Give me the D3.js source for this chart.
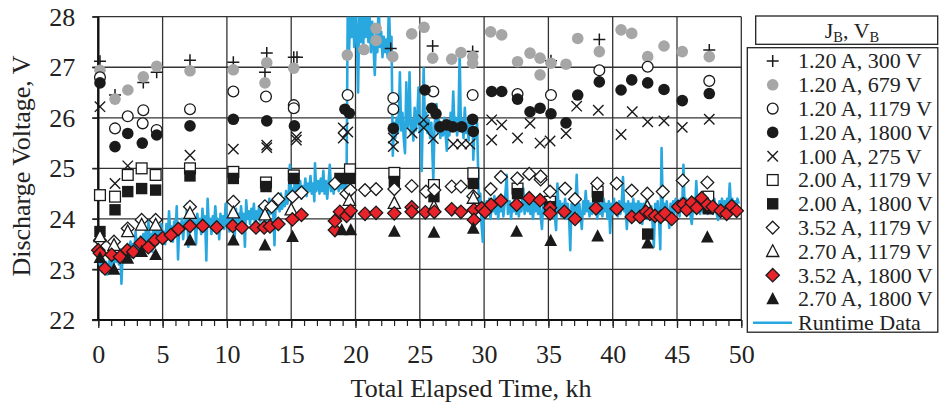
<!DOCTYPE html>
<html><head><meta charset="utf-8">
<script src="https://cdn.jsdelivr.net/npm/d3@7"></script>
<style>body{margin:0;background:#fff}svg{display:block}text{font-family:"Liberation Serif","Times New Roman",serif;fill:#222}</style>
</head><body><div id="chart"></div>
<script>
const xTickValues = [0,5,10,15,20,25,30,35,40,45,50];
const yTickValues = [22,23,24,25,26,27,28];
const xTitle = "Total Elapsed Time, kh";
const yTitle = "Discharge Voltage, V";
const legendLabels = ["1.20 A, 300 V","1.20 A, 679 V","1.20 A, 1179 V","1.20 A, 1800 V","1.00 A, 275 V","2.00 A, 1179 V","2.00 A, 1800 V","3.52 A, 1179 V","2.70 A, 1179 V","3.52 A, 1800 V","2.70 A, 1800 V","Runtime Data"];

const s120_300 = [[0.13,27.12],[1.3,26.45],[3.5,26.7],[4.54,26.9],[7.13,27.14],[10.5,27.1],[13.1,27.28],[12.96,26.9],[15.2,27.2],[15.45,27.2],[22.74,27.37],[26.0,27.42],[29.11,27.31],[35.2,27.13],[38.96,27.55],[47.51,27.34]];
const s120_679 = [[0.13,26.94],[1.3,26.37],[2.3,26.55],[3.5,26.81],[4.54,27.02],[7.13,26.93],[10.5,26.95],[13.1,27.09],[12.96,26.69],[15.2,26.98],[19.36,27.24],[20.66,27.35],[21.6,27.77],[21.6,27.53],[22.9,27.21],[24.37,27.66],[25.33,27.79],[26.0,27.18],[27.48,27.16],[28.2,27.29],[29.11,27.21],[29.11,27.08],[30.51,27.7],[31.37,27.64],[32.6,27.11],[33.57,27.28],[34.35,27.18],[34.35,26.85],[35.2,27.08],[36.37,27.06],[37.28,27.57],[38.96,27.31],[40.65,27.74],[41.48,27.67],[42.72,27.21],[43.99,27.42],[45.41,27.31],[47.51,27.21]];
const s120_1179 = [[0.13,26.8],[1.3,25.79],[2.29,26.03],[3.5,26.15],[3.45,25.89],[4.54,25.76],[7.13,26.17],[10.5,26.52],[13.04,26.42],[15.2,26.25],[15.2,26.19],[19.39,26.45],[22.94,26.39],[22.94,26.17],[26.05,26.52],[29.11,26.45],[32.6,26.47],[35.2,26.45],[38.96,26.94],[42.72,27.01],[47.51,26.73]];
const s120_1800 = [[0.13,26.69],[1.3,25.43],[2.29,25.69],[3.42,25.5],[4.54,25.66],[7.13,25.84],[10.5,25.97],[13.1,25.94],[15.25,25.84],[19.18,26.17],[19.52,26.09],[22.94,25.79],[25.4,26.55],[25.93,26.19],[26.26,26.08],[26.57,25.82],[27.09,25.86],[27.56,25.82],[28.26,25.82],[29.11,25.97],[29.16,25.73],[30.59,26.52],[31.37,26.52],[32.6,26.37],[33.57,26.12],[34.35,26.19],[35.2,26.08],[36.37,25.9],[37.28,26.45],[38.96,26.71],[40.65,26.55],[41.48,26.75],[42.72,26.69],[43.99,26.56],[45.41,26.34],[47.51,26.48]];
const s100_275 = [[0.13,26.22],[1.3,24.7],[2.29,25.05],[7.13,25.26],[10.5,25.38],[13.1,25.46],[13.1,25.41],[15.4,25.62],[15.4,25.56],[19.05,25.8],[19.05,25.6],[19.4,25.72],[22.94,25.6],[22.94,25.43],[24.4,25.7],[25.3,25.96],[25.3,25.8],[26.05,25.59],[27.6,25.48],[28.26,25.48],[28.9,25.48],[30.59,25.96],[31.37,25.86],[30.59,25.56],[32.6,25.6],[33.57,25.89],[34.35,25.5],[35.13,25.54],[36.37,25.69],[37.2,26.23],[38.88,26.15],[40.65,25.67],[41.52,26.12],[42.72,25.92],[43.99,25.94],[45.41,25.81],[47.51,25.97]];
const s200_1179 = [[0.13,24.47],[1.3,24.44],[2.29,24.87],[3.37,25.0],[4.46,24.87],[7.13,25.0],[10.5,24.93],[13.04,24.72],[15.2,24.86],[19.57,24.98],[23.02,24.91],[26.1,24.67],[29.16,24.9],[32.6,24.6],[35.13,24.34],[38.83,24.54],[47.43,24.44]];
const s200_1800 = [[0.13,23.75],[1.3,24.18],[2.29,24.54],[3.37,24.6],[4.46,24.57],[7.13,24.85],[10.5,24.8],[13.04,24.64],[15.2,24.8],[18.79,24.8],[19.57,24.8],[23.02,24.74],[26.1,24.44],[29.16,24.7],[32.6,24.5],[35.13,24.24],[38.83,24.44],[42.72,23.7],[47.43,24.2]];
const s352_1179 = [[0.13,23.58],[1.22,23.55],[2.29,23.81],[3.37,23.98],[4.46,23.98],[7.13,24.24],[10.5,24.34],[12.96,24.25],[13.48,24.24],[14.0,24.39],[15.1,24.44],[15.8,24.52],[18.4,24.7],[19.3,24.5],[19.6,24.57],[20.74,24.57],[21.6,24.59],[23.02,24.59],[24.37,24.65],[25.48,24.54],[26.13,24.57],[27.48,24.64],[28.2,24.64],[29.16,24.45],[30.51,24.59],[31.31,24.83],[32.58,24.8],[33.51,24.89],[34.4,24.78],[34.4,24.84],[35.13,24.54],[36.3,24.6],[37.07,24.39],[38.8,24.7],[40.31,24.7],[41.48,24.56],[42.69,24.5],[43.89,24.54],[45.44,24.76],[47.36,24.72]];
const s270_1179 = [[0.13,23.65],[1.22,23.48],[2.29,23.75],[3.37,23.88],[4.46,23.88],[7.13,24.11],[10.5,24.12],[12.96,24.08],[15.0,24.18],[19.52,24.37],[23.02,24.31],[26.1,24.24],[29.16,24.41],[42.69,24.24]];
const s352_1800 = [[0.0,23.38],[0.13,23.32],[0.52,23.02],[1.04,23.29],[1.69,23.25],[2.26,23.38],[2.72,23.35],[3.3,23.52],[3.89,23.44],[4.41,23.58],[5.0,23.62],[5.65,23.68],[6.22,23.8],[7.13,23.86],[8.12,23.86],[9.21,23.83],[10.45,23.86],[11.17,23.83],[12.26,23.83],[12.9,23.83],[13.35,23.85],[14.0,23.9],[15.09,23.99],[15.8,24.08],[18.4,23.78],[18.4,23.96],[18.79,24.14],[19.31,24.06],[19.62,24.16],[20.74,24.1],[21.6,24.12],[23.02,24.11],[24.37,24.23],[24.37,24.14],[25.43,24.13],[26.13,24.14],[27.48,24.19],[28.2,24.14],[29.21,24.18],[29.21,23.98],[29.81,24.21],[30.07,24.14],[30.54,24.28],[31.31,24.36],[32.53,24.28],[33.51,24.41],[34.35,24.37],[35.13,24.22],[35.13,24.11],[36.24,24.14],[37.07,24.0],[38.7,24.21],[40.31,24.2],[41.48,24.04],[42.12,24.04],[42.59,24.14],[42.9,24.1],[43.29,24.06],[43.73,24.04],[44.07,24.11],[44.59,24.0],[45.1,24.24],[45.49,24.29],[45.75,24.18],[46.14,24.32],[46.53,24.22],[46.92,24.41],[47.36,24.28],[47.78,24.24],[48.4,24.16],[48.86,24.1],[49.25,24.25],[49.64,24.16]];
const s270_1800 = [[0.13,23.23],[1.22,23.0],[2.29,23.22],[3.37,23.35],[4.46,23.29],[7.13,23.58],[10.5,23.58],[12.96,23.48],[15.1,23.65],[18.93,23.78],[19.63,23.78],[23.02,23.75],[26.1,23.73],[29.16,23.81],[32.53,23.75],[35.18,23.57],[38.83,23.66],[42.72,23.52],[47.36,23.64]];
const runtime = [[0.0,23.3],[0.1,23.1],[0.2,23.25],[0.3,22.95],[0.4,23.2],[0.5,23.0],[0.6,23.15],[0.7,22.9],[0.8,23.1],[0.9,23.2],[1.0,23.05],[1.1,23.3],[1.2,23.1],[1.3,23.35],[1.4,23.15],[1.5,23.3],[1.6,23.1],[1.7,23.4],[1.8,22.72],[1.9,23.35],[2.0,23.25],[2.1,23.45],[2.2,23.2],[2.3,23.4],[2.4,23.3],[2.5,23.55],[2.6,23.25],[2.7,23.5],[2.8,23.35],[2.9,23.75],[3.0,23.4],[3.1,23.6],[3.2,23.3],[3.3,23.65],[3.4,23.45],[3.5,23.7],[3.6,23.4],[3.7,23.8],[3.8,23.5],[3.9,23.95],[4.0,23.55],[4.1,23.7],[4.2,23.35],[4.3,24.05],[4.4,23.6],[4.5,23.8],[4.6,23.5],[4.7,23.85],[4.8,23.55],[4.9,23.9],[5.0,23.6],
[5.1,23.75],[5.2,23.5],[5.3,23.9],[5.4,23.6],[5.5,24.15],[5.6,23.7],[5.7,23.85],[5.8,23.55],[5.9,23.95],[6.0,23.7],[6.1,24.25],[6.2,23.2],[6.3,23.9],[6.4,23.75],[6.5,24.0],[6.6,23.6],[6.7,23.95],[6.8,23.8],[6.9,24.3],[7.0,23.45],[7.1,23.9],[7.2,23.75],[7.3,24.05],[7.4,23.8],[7.5,23.95],[7.6,23.5],[7.7,24.1],[7.8,23.85],[7.9,24.0],[8.0,23.7],[8.1,24.2],[8.2,23.85],[8.3,24.05],[8.4,23.18],[8.5,24.4],[8.6,23.85],[8.7,24.0],[8.8,23.7],[8.9,24.05],[9.0,23.85],[9.1,24.25],[9.2,23.9],[9.3,24.0],[9.4,23.6],[9.5,24.1],[9.6,23.9],[9.7,24.05],[9.8,23.8],[9.9,24.3],[10.0,23.9],
[10.1,24.05],[10.2,23.75],[10.3,24.15],[10.4,23.95],[10.5,24.1],[10.6,23.6],[10.7,24.2],[10.8,23.95],[10.9,24.1],[11.0,23.85],[11.1,24.25],[11.2,23.95],[11.3,24.1],[11.4,23.45],[11.5,24.37],[11.6,24.0],[11.7,24.15],[11.8,23.9],[11.9,24.2],[12.0,24.0],[12.1,24.3],[12.2,23.8],[12.3,24.15],[12.4,24.0],[12.5,24.25],[12.6,23.95],[12.7,24.2],[12.8,24.05],[12.9,24.35],[13.0,23.9],[13.1,24.25],[13.2,24.05],[13.3,24.4],[13.4,24.1],[13.5,24.3],[13.6,24.15],[13.7,23.48],[13.8,24.45],[13.9,24.2],[14.0,24.35],[14.1,24.15],[14.2,24.5],[14.3,24.2],[14.4,24.4],[14.5,24.25],[14.6,24.55],[14.7,24.3],[14.8,24.45],[14.9,25.07],[15.0,24.35],
[15.1,24.6],[15.2,24.4],[15.3,24.9],[15.4,24.45],[15.5,24.7],[15.6,24.5],[15.7,24.75],[15.8,24.4],[15.9,24.65],[16.0,24.5],[16.1,24.8],[16.2,24.45],[16.3,24.7],[16.4,24.55],[16.5,24.85],[16.6,24.5],[16.7,24.7],[16.8,24.35],[16.85,25.1],[16.95,24.55],[17.1,24.75],[17.2,24.5],[17.3,24.8],[17.4,24.55],[17.5,24.95],[17.6,24.5],[17.7,24.75],[17.8,24.4],[17.9,24.7],[18.0,25.07],[18.1,24.55],[18.2,24.75],[18.3,24.5],[18.4,24.8],[18.5,24.6],[18.6,24.85],[18.7,24.55],[18.8,24.75],[18.9,24.6],[19.0,24.8],[19.1,24.6],[19.2,24.9],[19.3,24.65],
[19.4,28.3],[19.5,27.3],[19.6,28.2],[19.7,27.6],[19.8,28.3],[19.9,27.4],[20.0,28.3],[20.1,27.7],[20.2,26.5],[20.3,28.2],[20.4,27.5],[20.5,28.3],[20.6,27.4],[20.7,28.1],[20.8,27.6],[20.9,28.3],[21.0,27.5],[21.1,28.0],[21.2,27.3],[21.3,27.9],[21.4,27.4],[21.5,26.85],[21.6,27.7],[21.7,27.3],[21.8,28.3],[21.9,27.4],[22.0,27.7],[22.1,27.2],[22.2,27.6],[22.3,27.3],[22.4,27.55],[22.5,27.2],[22.6,28.3],[22.7,27.3],[22.8,27.6],
[22.9,25.25],[23.0,25.9],[23.1,25.6],[23.2,26.0],[23.3,25.7],[23.4,26.3],[23.45,26.9],[23.55,25.75],[23.65,26.1],[23.75,25.6],[23.85,25.3],[23.95,26.7],[24.05,25.8],[24.15,26.0],[24.2,26.9],[24.3,25.7],[24.4,25.95],[24.5,25.55],[24.6,26.2],[24.7,25.75],[24.8,26.0],[24.9,26.6],[25.0,25.7],[25.1,25.9],[25.15,24.95],[25.3,26.98],[25.4,25.8],[25.5,26.1],[25.6,25.7],[25.7,25.95],[25.8,25.6],[25.9,25.9],[26.05,24.77],[26.15,25.85],[26.3,26.27],[26.4,25.7],[26.5,25.95],[26.6,25.6],[26.7,25.85],[26.8,25.65],[26.9,26.0],[27.0,25.7],[27.1,25.35],[27.2,25.9],[27.3,25.65],[27.4,26.1],[27.5,25.75],[27.6,26.52],[27.7,25.8],[27.8,26.0],[27.9,25.65],[28.0,25.9],[28.1,27.28],[28.2,25.75],[28.3,25.95],[28.4,25.6],[28.5,26.2],[28.6,25.7],[28.7,25.9],[28.8,25.55],[28.9,25.95],[29.0,25.7],[29.1,26.0],[29.16,25.17],[29.25,25.8],[29.35,25.6],[29.45,25.9],
[29.6,24.3],[29.7,24.5],[29.8,23.9],[29.9,23.55],[30.0,24.3],[30.1,24.05],[30.2,24.35],[30.3,24.1],[30.4,24.4],[30.5,24.0],[30.6,24.3],[30.7,24.15],[30.8,24.45],[30.9,24.1],[31.0,24.3],[31.1,24.0],[31.2,24.35],[31.3,24.15],[31.4,24.4],[31.5,24.05],[31.6,24.3],[31.76,24.87],[31.85,24.1],[32.0,24.35],[32.1,24.0],[32.2,24.3],[32.3,24.15],[32.4,24.45],[32.5,24.1],[32.6,24.35],[32.7,24.05],[32.8,24.3],[32.9,24.15],[33.05,24.6],[33.15,24.1],[33.3,24.35],[33.4,24.15],[33.5,24.4],[33.6,24.1],[33.7,24.3],[33.8,24.0],[33.9,24.35],[34.0,24.15],[34.1,24.4],[34.2,24.1],[34.3,24.3],[34.4,24.05],[34.5,23.8],[34.6,24.35],[34.7,24.15],[34.8,24.4],[34.9,24.1],[35.0,24.3],[35.1,24.0],[35.2,24.35],[35.3,24.1],[35.4,24.3],[35.5,24.05],[35.6,23.78],[35.7,24.7],[35.8,24.15],[35.9,24.35],[36.0,24.05],[36.1,24.3],[36.2,24.1],[36.3,24.4],[36.4,24.0],[36.5,24.3],[36.6,24.1],[36.7,23.38],[36.8,24.3],[36.9,24.1],[37.0,24.4],[37.1,24.15],[37.2,24.87],[37.3,24.1],[37.4,24.3],[37.5,24.05],[37.6,23.8],[37.7,24.35],[37.8,24.1],[37.9,24.55],[38.0,24.15],[38.1,24.35],[38.2,24.05],[38.3,24.3],[38.4,24.1],[38.5,24.4],[38.6,24.15],[38.7,24.3],[38.8,24.0],[38.9,24.35],[39.0,24.1],[39.1,24.3],[39.2,24.05],[39.3,24.4],[39.4,24.15],[39.5,24.3],[39.6,24.0],[39.7,24.35],[39.8,23.72],[39.9,24.3],[40.0,24.1],[40.1,24.4],[40.2,24.15],[40.3,24.3],[40.4,24.05],[40.5,24.35],[40.6,24.1],[40.7,24.3],[40.8,24.83],[40.9,24.15],[41.0,24.3],[41.1,23.8],[41.2,24.35],[41.3,24.1],[41.4,24.3],[41.5,24.05],[41.6,24.4],[41.7,24.1],[41.8,24.3],[41.9,24.0],[42.0,24.35],[42.1,24.1],[42.2,24.3],[42.3,23.9],[42.4,24.3],[42.5,24.05],[42.6,24.35],[42.7,24.0],[42.8,24.3],[42.9,24.1],[43.0,24.25],[43.1,23.9],[43.2,23.45],[43.3,24.3],[43.4,24.05],[43.5,24.35],[43.6,24.0],[43.7,23.4],[43.8,25.4],[43.9,24.1],[44.0,24.3],[44.1,24.0],[44.2,24.35],[44.3,24.1],[44.4,23.82],[44.5,24.3],[44.6,24.05],[44.7,24.35],[44.8,24.1],[44.9,24.4],[45.0,24.15],[45.1,24.35],[45.2,24.05],[45.3,24.4],[45.4,24.2],[45.5,25.07],[45.6,24.15],[45.7,24.4],[45.8,24.1],[45.9,24.35],[46.0,24.15],[46.15,23.9],[46.3,24.4],[46.4,24.15],[46.5,24.75],[46.6,24.2],[46.7,24.4],[46.8,24.1],[46.9,24.35],[47.0,24.15],[47.1,24.45],[47.2,24.2],[47.3,24.35],[47.4,24.1],[47.5,24.4],[47.6,24.15],[47.7,24.35],[47.8,24.1],[47.9,24.4],[48.0,24.2],[48.2,23.98],[48.3,24.35],[48.4,24.15],[48.5,24.4],[48.6,24.2],[48.7,24.35],[48.8,24.1],[48.9,24.4],[49.0,24.2],[49.1,24.7],[49.2,24.25],[49.3,24.4],[49.4,24.15],[49.5,24.35],[49.6,24.2],[49.7,24.4],[49.8,24.3]];

const W = 940, H = 407;
const svg = d3.select("#chart").append("svg").attr("width", W).attr("height", H);
const x = d3.scaleLinear().domain([0, 50]).range([98.3, 741.3]);
const y = d3.scaleLinear().domain([22, 28]).range([320, 16.7]);

svg.append("clipPath").attr("id","plotclip").append("rect")
  .attr("x", x(0)).attr("y", y(28)).attr("width", x(50)-x(0)).attr("height", y(22)-y(28));

const grid = svg.append("g").attr("stroke","#333").attr("stroke-width",1.3);
grid.selectAll("line.h").data(yTickValues).join("line")
  .attr("x1", x(0)-6).attr("x2", x(50)).attr("y1", d=>y(d)).attr("y2", d=>y(d));
grid.selectAll("line.v").data(xTickValues).join("line")
  .attr("x1", d=>x(d)).attr("x2", d=>x(d)).attr("y1", y(28)).attr("y2", y(22));

const font = '"Liberation Serif","Times New Roman",serif';
const minor = d3.range(0, 51, 1);
const gxMinor = svg.append("g").attr("transform", `translate(0,${y(22)})`)
  .call(d3.axisBottom(x).tickValues(minor).tickSize(6).tickFormat(""));
gxMinor.select(".domain").remove();
gxMinor.selectAll("line").attr("stroke","#222").attr("stroke-width",1.2);
const gx = svg.append("g").attr("transform", `translate(0,${y(22)})`)
  .call(d3.axisBottom(x).tickValues(xTickValues).tickSize(8).tickFormat(d3.format("d")));
gx.select(".domain").attr("stroke","#111").attr("stroke-width",2.2).attr("d", `M${x(0)-6},0H${x(50)}`);
gx.selectAll("line").attr("stroke","#222").attr("stroke-width",1.3);
gx.selectAll("text").attr("y", 34).attr("dy","0.33em").attr("font-size", 26).attr("font-family", font).attr("fill","#222");

const gy = svg.append("g").attr("transform", `translate(${x(0)},0)`)
  .call(d3.axisLeft(y).tickValues(yTickValues).tickSize(6).tickFormat(d3.format("d")));
gy.select(".domain").attr("stroke","#111").attr("stroke-width",2.4).attr("d", `M0,${y(28)}V${y(22)}`);
gy.selectAll("line").attr("stroke","#222").attr("stroke-width",1.3);
gy.selectAll("text").attr("x", -23).attr("dy","0.33em").attr("font-size", 26).attr("font-family", font).attr("fill","#222");

svg.append("text").attr("x", 471).attr("y", 397).attr("text-anchor","middle")
  .attr("font-size", 26).text(xTitle);
svg.append("text").attr("transform", `translate(30,166) rotate(-90)`).attr("text-anchor","middle")
  .attr("font-size", 26).text(yTitle);

const line = d3.line().x(d=>x(d[0])).y(d=>y(d[1]));
svg.append("g").attr("clip-path","url(#plotclip)").append("path")
  .datum(runtime).attr("d", line).attr("fill","none").attr("stroke","#29a8e0").attr("stroke-width",2.6).attr("stroke-linejoin","round");

const BLK = "#1a1a1a";
const sym = {
  plus: g => g.append("path").attr("d","M-6,0H6M0,-6V6").attr("stroke",BLK).attr("stroke-width",1.5).attr("fill","none"),
  gray: g => g.append("circle").attr("r",5.8).attr("fill","#a6a6a6"),
  ocirc: g => g.append("circle").attr("r",5.4).attr("fill","#fff").attr("stroke",BLK).attr("stroke-width",1.3),
  bcirc: g => g.append("circle").attr("r",5.8).attr("fill",BLK),
  cross: g => g.append("path").attr("d","M-5.2,-5.2L5.2,5.2M-5.2,5.2L5.2,-5.2").attr("stroke",BLK).attr("stroke-width",1.4).attr("fill","none"),
  osq: g => g.append("rect").attr("x",-5.4).attr("y",-5.4).attr("width",10.8).attr("height",10.8).attr("fill","#fff").attr("stroke",BLK).attr("stroke-width",1.3),
  bsq: g => g.append("rect").attr("x",-5.7).attr("y",-5.7).attr("width",11.4).attr("height",11.4).attr("fill",BLK),
  odia: g => g.append("path").attr("d","M0,-6.4L6.4,0L0,6.4L-6.4,0Z").attr("fill","#fff").attr("stroke",BLK).attr("stroke-width",1.3),
  otri: g => g.append("path").attr("d","M0,-6.6L6.1,5.1L-6.1,5.1Z").attr("fill","#fff").attr("stroke",BLK).attr("stroke-width",1.3),
  rdia: g => g.append("path").attr("d","M0,-6.7L6.7,0L0,6.7L-6.7,0Z").attr("fill","#e8232a").attr("stroke",BLK).attr("stroke-width",1.3),
  btri: g => g.append("path").attr("d","M0,-6.9L6.4,5.3L-6.4,5.3Z").attr("fill",BLK)
};
const seriesList = [
  [s120_300,"plus"],[s120_679,"gray"],[s120_1179,"ocirc"],[s120_1800,"bcirc"],[s100_275,"cross"],
  [s200_1179,"osq"],[s200_1800,"bsq"],[s352_1179,"odia"],[s270_1179,"otri"],[s352_1800,"rdia"],[s270_1800,"btri"]
];
const marks = svg.append("g");
seriesList.forEach(([data, type]) => {
  const gs = marks.append("g");
  data.forEach(d => {
    const g = gs.append("g").attr("transform", `translate(${x(d[0])},${y(d[1])})`);
    sym[type](g);
  });
});

svg.append("rect").attr("x",755.7).attr("y",16).attr("width",182).attr("height",28.3)
  .attr("fill","#fff").attr("stroke","#222").attr("stroke-width",1.3);
const lt = svg.append("text").attr("x",852).attr("y",37.5).attr("text-anchor","middle").attr("font-size",22);
lt.append("tspan").text("J");
lt.append("tspan").attr("font-size",14.5).attr("dy",4).text("B");
lt.append("tspan").attr("dy",-4).text(", V");
lt.append("tspan").attr("font-size",14.5).attr("dy",4).text("B");

svg.append("rect").attr("x",747.3).attr("y",47.7).attr("width",190.5).attr("height",284.5)
  .attr("fill","#fff").attr("stroke","#222").attr("stroke-width",1.3);
const types = seriesList.map(s => s[1]);
legendLabels.forEach((lab, i) => {
  const cy = 61 + i * 23.8;
  if (i < types.length) {
    const g = svg.append("g").attr("transform", `translate(772.7,${cy})`);
    sym[types[i]](g);
  } else {
    svg.append("line").attr("x1",753).attr("x2",792).attr("y1",cy).attr("y2",cy)
      .attr("stroke","#29a8e0").attr("stroke-width",2.6);
  }
  svg.append("text").attr("x",798).attr("y",cy).attr("dy","0.34em").attr("font-size",22).text(lab);
});
</script></body></html>
